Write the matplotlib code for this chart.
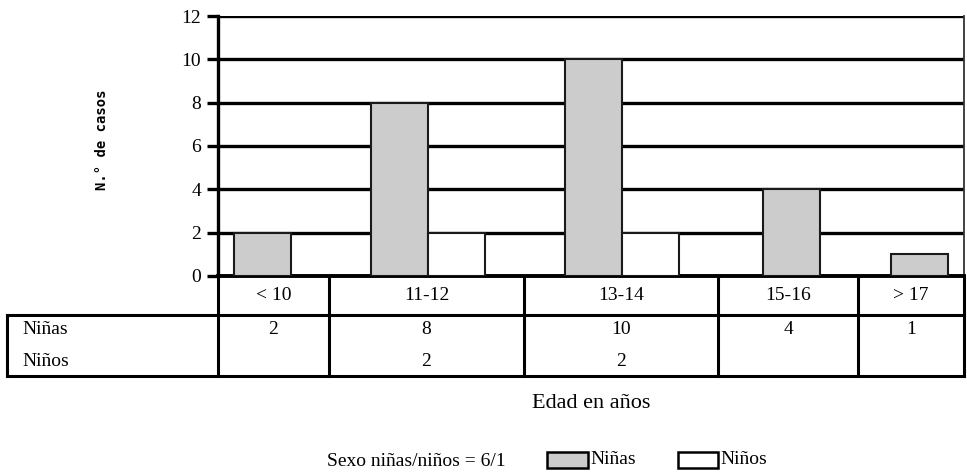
import numpy as np
import matplotlib
matplotlib.use("Agg")
import matplotlib.pyplot as plt
from matplotlib.patches import Rectangle

# Data
edades = ['< 10', '11-12', '13-14', '15-16', '> 17']
ninas = [2, 8, 10, 4, 1]
ninos = [0, 2, 2, 0, 0]
ratio_text = 'Sexo niñas/niños = 6/1'

# layout (pixels): column widths of the data table / category slots,
# and how far each bar group sits off its column centre
col_w = np.array([111, 195, 194, 140, 106])
shift = np.array([-11.5, 1.5, 1, 3.5, 8.5])
x0, y_top, y_axis, y_row, y_bot = 218, 16, 276, 315, 376
bar_w = 57

plt.rcParams['font.family'] = ['Liberation Serif', 'DejaVu Serif']

fig = plt.figure(figsize=(9.67, 4.76), dpi=100)
W, H = 967, 476
ax = fig.add_axes([x0 / W, (H - y_axis) / H, col_w.sum() / W, (y_axis - y_top) / H])

edges = np.concatenate([[0], np.cumsum(col_w)])
centers = (edges[:-1] + edges[1:]) / 2

for i, c in enumerate(centers):
    c = c + shift[i]
    if ninos[i] > 0:
        ax.bar(c - bar_w / 2, ninas[i], width=bar_w, color='#cccccc',
               edgecolor='#1a1a1a', linewidth=1.5, zorder=3)
        ax.bar(c + bar_w / 2, ninos[i], width=bar_w, color='white',
               edgecolor='#1a1a1a', linewidth=1.5, zorder=3)
    else:
        ax.bar(c, ninas[i], width=bar_w, color='#cccccc',
               edgecolor='#1a1a1a', linewidth=1.5, zorder=3)

ax.set_xlim(0, edges[-1])
ax.set_ylim(0, 12)
ax.set_yticks(np.arange(0, 13, 2))
ax.set_xticks([])
ax.yaxis.grid(True, color='black', linewidth=2.4)
ax.set_axisbelow(True)
ax.tick_params(axis='y', direction='out', length=8, width=2.4, labelsize=14, pad=4)
ax.spines['top'].set_visible(False)
ax.spines['left'].set_linewidth(2.4)
ax.spines['bottom'].set_linewidth(2.8)
ax.spines['right'].set_linewidth(1.3)
ax.spines['right'].set_color('#333333')

# y label
fig.text(102 / W, 1 - 140 / H, 'N.° de casos', rotation=90, ha='center', va='center',
         fontsize=10, fontweight='bold', family=['DejaVu Sans Mono'])

# data table drawn in pixel coordinates
tb = fig.add_axes([0, 0, 1, 1], zorder=5)
tb.set_xlim(0, W)
tb.set_ylim(H, 0)
tb.axis('off')
col_x = x0 + edges
lw = 2.2
for xe in col_x:
    tb.plot([xe, xe], [y_axis, y_bot], color='black', lw=lw)
tb.plot([7, col_x[-1]], [y_row, y_row], color='black', lw=lw)
tb.plot([7, col_x[-1]], [y_bot, y_bot], color='black', lw=lw)
tb.plot([7, 7], [y_row, y_bot], color='black', lw=lw)

for i, lab in enumerate(edades):
    cx = x0 + centers[i]
    tb.text(cx, 296, lab, ha='center', va='center', fontsize=14)
    tb.text(cx, 330, str(ninas[i]), ha='center', va='center', fontsize=14)
    if ninos[i] > 0:
        tb.text(cx, 362, str(ninos[i]), ha='center', va='center', fontsize=14)
tb.text(22, 329, 'Niñas', ha='left', va='center', fontsize=14)
tb.text(22, 362, 'Niños', ha='left', va='center', fontsize=14)

# x axis title
tb.text(x0 + edges[-1] / 2, 403, 'Edad en años', ha='center', va='center', fontsize=16)

# legend
tb.text(327, 461, ratio_text, ha='left', va='center', fontsize=14)
tb.add_patch(Rectangle((547, 452), 41, 16, facecolor='#cccccc', edgecolor='black', lw=1.8))
tb.text(590, 460, 'Niñas', ha='left', va='center', fontsize=14)
tb.add_patch(Rectangle((678, 452), 40, 16, facecolor='white', edgecolor='black', lw=1.8))
tb.text(720, 460, 'Niños', ha='left', va='center', fontsize=14)

fig.savefig('out.png', dpi=100)
